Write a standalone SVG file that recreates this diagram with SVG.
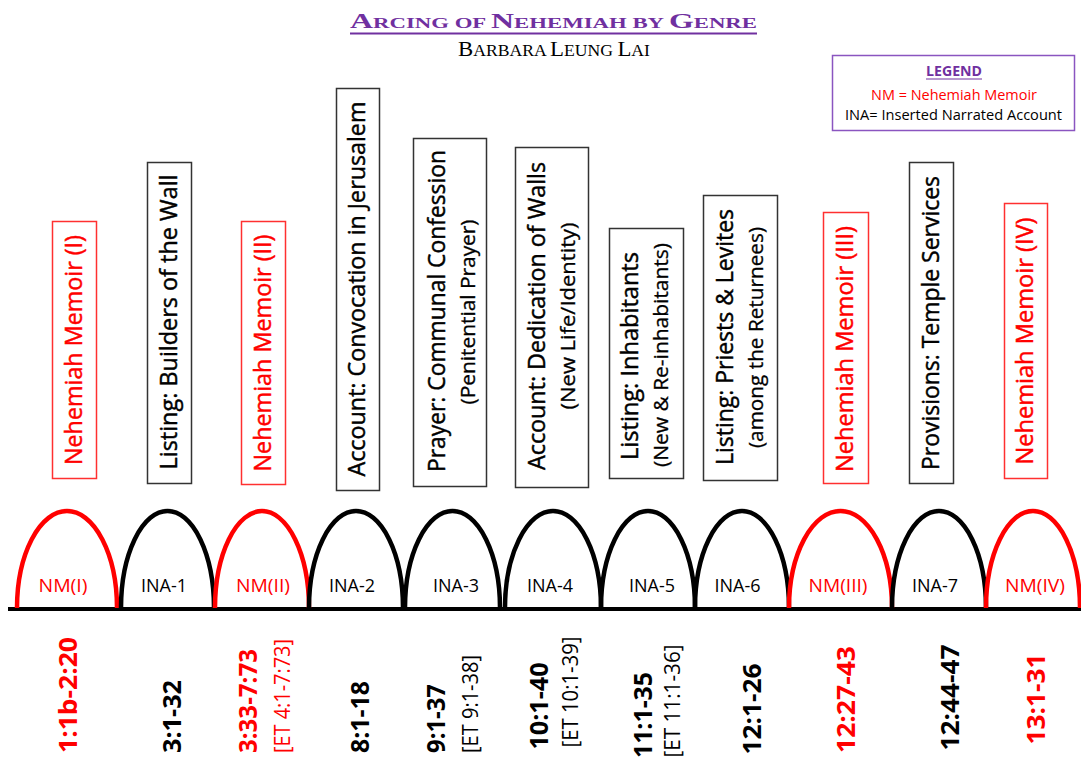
<svg xmlns="http://www.w3.org/2000/svg" width="1081" height="761" viewBox="0 0 1081 761">
<style>
.sans{font-family:"Open Sans","Liberation Sans",sans-serif}
.serif{font-family:"Liberation Serif","DejaVu Serif",serif}
.box{fill:#fff;stroke-width:1.5}
.rb{stroke:#ff3030}
.kb{stroke:#333}
.red{fill:#ff0000}
.blk{fill:#000}
.pur{fill:#7030a0}
.main{font-size:24px;stroke-width:0.45px}
.main.red{stroke:#ff0000}
.main.blk{stroke:#000}
.sub{font-size:20px;stroke:#000;stroke-width:0.3px}
.arc{fill:none;stroke-width:4.5}
.ar{stroke:#ff0000}
.ak{stroke:#000}
.al{font-size:19px}
.ref{font-size:25px;font-weight:bold}
.et{font-size:21px}
</style>
<rect width="1081" height="761" fill="#fff"/>

<g id="title">
<text class="serif pur" x="553.5" y="28" text-anchor="middle" font-weight="bold" textLength="407" lengthAdjust="spacingAndGlyphs"><tspan font-size="21">A</tspan><tspan font-size="15">RCING OF </tspan><tspan font-size="21">N</tspan><tspan font-size="15">EHEMIAH BY </tspan><tspan font-size="21">G</tspan><tspan font-size="15">ENRE</tspan></text>
<line x1="350" y1="33.5" x2="757" y2="33.5" stroke="#7030a0" stroke-width="2"/>
<text class="serif blk" x="554" y="56" text-anchor="middle" textLength="192" lengthAdjust="spacingAndGlyphs"><tspan font-size="22">B</tspan><tspan font-size="17">ARBARA </tspan><tspan font-size="22">L</tspan><tspan font-size="17">EUNG </tspan><tspan font-size="22">L</tspan><tspan font-size="17">AI</tspan></text>
</g>

<g id="legend">
<rect x="832.5" y="55.5" width="242" height="75" fill="#fff" stroke="#8a55c0" stroke-width="1.5"/>
<text class="sans pur" x="954" y="76" text-anchor="middle" font-size="14" font-weight="bold" textLength="56" lengthAdjust="spacingAndGlyphs">LEGEND</text>
<line x1="926" y1="79" x2="982" y2="79" stroke="#7030a0" stroke-width="1.2"/>
<text class="sans red" x="954" y="100" text-anchor="middle" font-size="14" textLength="166" lengthAdjust="spacingAndGlyphs">NM = Nehemiah Memoir</text>
<text class="sans blk" x="953.5" y="120" text-anchor="middle" font-size="14" textLength="217" lengthAdjust="spacingAndGlyphs">INA= Inserted Narrated Account</text>
</g>

<g id="box-nm1">
<rect class="box rb" x="52.5" y="221.5" width="44" height="257"/>
<text class="sans main red" transform="translate(82,350) rotate(-90)" text-anchor="middle" textLength="230" lengthAdjust="spacingAndGlyphs">Nehemiah Memoir (I)</text>
</g>
<g id="box-ina1">
<rect class="box kb" x="147.5" y="162.5" width="44" height="321"/>
<text class="sans main blk" transform="translate(177,322) rotate(-90)" text-anchor="middle" textLength="295" lengthAdjust="spacingAndGlyphs">Listing: Builders of the Wall</text>
</g>
<g id="box-nm2">
<rect class="box rb" x="241.5" y="221.5" width="44" height="263"/>
<text class="sans main red" transform="translate(271,353) rotate(-90)" text-anchor="middle" textLength="237" lengthAdjust="spacingAndGlyphs">Nehemiah Memoir (II)</text>
</g>
<g id="box-ina2">
<rect class="box kb" x="336.5" y="88.5" width="43" height="402"/>
<text class="sans main blk" transform="translate(365,289) rotate(-90)" text-anchor="middle" textLength="375" lengthAdjust="spacingAndGlyphs">Account: Convocation in Jerusalem</text>
</g>
<g id="box-ina3">
<rect class="box kb" x="413.5" y="138.5" width="73" height="348"/>
<text class="sans main blk" transform="translate(445,311) rotate(-90)" text-anchor="middle" textLength="322" lengthAdjust="spacingAndGlyphs">Prayer: Communal Confession</text>
<text class="sans sub blk" transform="translate(475,312) rotate(-90)" text-anchor="middle" textLength="185" lengthAdjust="spacingAndGlyphs">(Penitential Prayer)</text>
</g>
<g id="box-ina4">
<rect class="box kb" x="515.5" y="147.5" width="73" height="340"/>
<text class="sans main blk" transform="translate(545,316) rotate(-90)" text-anchor="middle" textLength="308" lengthAdjust="spacingAndGlyphs">Account: Dedication of Walls</text>
<text class="sans sub blk" transform="translate(575,316) rotate(-90)" text-anchor="middle" textLength="187" lengthAdjust="spacingAndGlyphs">(New Life/Identity)</text>
</g>
<g id="box-ina5">
<rect class="box kb" x="609.5" y="228.5" width="74" height="250"/>
<text class="sans main blk" transform="translate(638,356) rotate(-90)" text-anchor="middle" textLength="208" lengthAdjust="spacingAndGlyphs">Listing: Inhabitants</text>
<text class="sans sub blk" transform="translate(668,355) rotate(-90)" text-anchor="middle" textLength="224" lengthAdjust="spacingAndGlyphs">(New &amp; Re-inhabitants)</text>
</g>
<g id="box-ina6">
<rect class="box kb" x="703.5" y="195.5" width="74" height="285"/>
<text class="sans main blk" transform="translate(733,337) rotate(-90)" text-anchor="middle" textLength="256" lengthAdjust="spacingAndGlyphs">Listing: Priests &amp; Levites</text>
<text class="sans sub blk" transform="translate(763,337.5) rotate(-90)" text-anchor="middle" textLength="221" lengthAdjust="spacingAndGlyphs">(among the Returnees)</text>
</g>
<g id="box-nm3">
<rect class="box rb" x="823.5" y="212.5" width="45" height="271"/>
<text class="sans main red" transform="translate(853,349) rotate(-90)" text-anchor="middle" textLength="246" lengthAdjust="spacingAndGlyphs">Nehemiah Memoir (III)</text>
</g>
<g id="box-ina7">
<rect class="box kb" x="909.5" y="162.5" width="44" height="321"/>
<text class="sans main blk" transform="translate(939,323) rotate(-90)" text-anchor="middle" textLength="294" lengthAdjust="spacingAndGlyphs">Provisions: Temple Services</text>
</g>
<g id="box-nm4">
<rect class="box rb" x="1004.5" y="203.5" width="43" height="275"/>
<text class="sans main red" transform="translate(1033,341) rotate(-90)" text-anchor="middle" textLength="247" lengthAdjust="spacingAndGlyphs">Nehemiah Memoir (IV)</text>
</g>

<g id="connectors">
<line x1="8" y1="609" x2="1081" y2="609" stroke="#000" stroke-width="4"/>
</g>

<g id="arc-nm1"><path class="arc ar" d="M17,608 A50,97 0 0 1 117,608"/><text class="sans al red" x="63" y="592" text-anchor="middle" textLength="49" lengthAdjust="spacingAndGlyphs">NM(I)</text></g>
<g id="arc-ina1"><path class="arc ak" d="M121,608 A46.5,97 0 0 1 214,608"/><text class="sans al blk" x="164" y="592" text-anchor="middle" textLength="46" lengthAdjust="spacingAndGlyphs">INA-1</text></g>
<g id="arc-nm2"><path class="arc ar" d="M215,608 A47,97 0 0 1 309,608"/><text class="sans al red" x="263" y="592" text-anchor="middle" textLength="54" lengthAdjust="spacingAndGlyphs">NM(II)</text></g>
<g id="arc-ina2"><path class="arc ak" d="M309,608 A47,97 0 0 1 403,608"/><text class="sans al blk" x="352" y="592" text-anchor="middle" textLength="46" lengthAdjust="spacingAndGlyphs">INA-2</text></g>
<g id="arc-ina3"><path class="arc ak" d="M405,608 A47.5,97 0 0 1 500,608"/><text class="sans al blk" x="456" y="592" text-anchor="middle" textLength="46" lengthAdjust="spacingAndGlyphs">INA-3</text></g>
<g id="arc-ina4"><path class="arc ak" d="M505,608 A48,97 0 0 1 601,608"/><text class="sans al blk" x="550" y="592" text-anchor="middle" textLength="46" lengthAdjust="spacingAndGlyphs">INA-4</text></g>
<g id="arc-ina5"><path class="arc ak" d="M601,608 A47,97 0 0 1 695,608"/><text class="sans al blk" x="652" y="592" text-anchor="middle" textLength="46" lengthAdjust="spacingAndGlyphs">INA-5</text></g>
<g id="arc-ina6"><path class="arc ak" d="M695,608 A47,97 0 0 1 789,608"/><text class="sans al blk" x="737.5" y="592" text-anchor="middle" textLength="46" lengthAdjust="spacingAndGlyphs">INA-6</text></g>
<g id="arc-nm3"><path class="arc ar" d="M789,608 A51.5,97 0 0 1 892,608"/><text class="sans al red" x="838" y="592" text-anchor="middle" textLength="59" lengthAdjust="spacingAndGlyphs">NM(III)</text></g>
<g id="arc-ina7"><path class="arc ak" d="M892,608 A47,97 0 0 1 986,608"/><text class="sans al blk" x="935" y="592" text-anchor="middle" textLength="46" lengthAdjust="spacingAndGlyphs">INA-7</text></g>
<g id="arc-nm4"><path class="arc ar" d="M986,608 A47,97 0 0 1 1080,608"/><text class="sans al red" x="1035" y="592" text-anchor="middle" textLength="60" lengthAdjust="spacingAndGlyphs">NM(IV)</text></g>

<g id="references">
<text class="sans ref red" transform="translate(77,695) rotate(-90)" text-anchor="middle" textLength="116" lengthAdjust="spacingAndGlyphs">1:1b-2:20</text>
<text class="sans ref blk" transform="translate(181,716.5) rotate(-90)" text-anchor="middle" textLength="73" lengthAdjust="spacingAndGlyphs">3:1-32</text>
<text class="sans ref red" transform="translate(257,701) rotate(-90)" text-anchor="middle" textLength="104" lengthAdjust="spacingAndGlyphs">3:33-7:73</text>
<text class="sans et red" transform="translate(290,696) rotate(-90)" text-anchor="middle" textLength="114" lengthAdjust="spacingAndGlyphs">[ET 4:1-7:73]</text>
<text class="sans ref blk" transform="translate(369,717) rotate(-90)" text-anchor="middle" textLength="72" lengthAdjust="spacingAndGlyphs">8:1-18</text>
<text class="sans ref blk" transform="translate(445,718.5) rotate(-90)" text-anchor="middle" textLength="69" lengthAdjust="spacingAndGlyphs">9:1-37</text>
<text class="sans et blk" transform="translate(478,704) rotate(-90)" text-anchor="middle" textLength="98" lengthAdjust="spacingAndGlyphs">[ET 9:1-38]</text>
<text class="sans ref blk" transform="translate(548,706) rotate(-90)" text-anchor="middle" textLength="87" lengthAdjust="spacingAndGlyphs">10:1-40</text>
<text class="sans et blk" transform="translate(578,692) rotate(-90)" text-anchor="middle" textLength="111" lengthAdjust="spacingAndGlyphs">[ET 10:1-39]</text>
<text class="sans ref blk" transform="translate(652,715) rotate(-90)" text-anchor="middle" textLength="86" lengthAdjust="spacingAndGlyphs">11:1-35</text>
<text class="sans et blk" transform="translate(680,701) rotate(-90)" text-anchor="middle" textLength="113" lengthAdjust="spacingAndGlyphs">[ET 11:1-36]</text>
<text class="sans ref blk" transform="translate(761,709) rotate(-90)" text-anchor="middle" textLength="91" lengthAdjust="spacingAndGlyphs">12:1-26</text>
<text class="sans ref red" transform="translate(855,699.5) rotate(-90)" text-anchor="middle" textLength="107" lengthAdjust="spacingAndGlyphs">12:27-43</text>
<text class="sans ref blk" transform="translate(959,697.5) rotate(-90)" text-anchor="middle" textLength="106" lengthAdjust="spacingAndGlyphs">12:44-47</text>
<text class="sans ref red" transform="translate(1045,699) rotate(-90)" text-anchor="middle" textLength="91" lengthAdjust="spacingAndGlyphs">13:1-31</text>
</g>
</svg>
